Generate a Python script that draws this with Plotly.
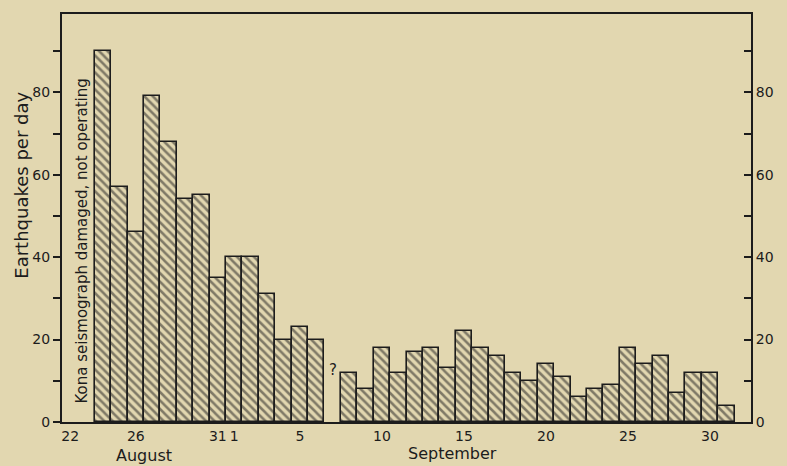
import plotly.graph_objects as go
import pandas as pd

# Daily earthquake counts, 24 Aug - 1 Oct 1951 (7 Sep missing)
dates = pd.date_range("1951-08-24", "1951-10-01", freq="D")
counts = [90, 57, 46, 79, 68, 54, 55, 35,
          40, 40, 31, 20, 23, 20, None, 12, 8, 18, 12, 17, 18, 13, 22, 18,
          16, 12, 10, 14, 11, 6, 8, 9, 18, 14, 16, 7, 12, 12,
          4]
tick_dates = ["1951-08-22", "1951-08-26", "1951-08-31", "1951-09-01", "1951-09-05",
              "1951-09-10", "1951-09-15", "1951-09-20", "1951-09-25", "1951-09-30"]
tick_text = ["22", "26", "31", "1", "5", "10", "15", "20", "25", "30"]
y_ticks = [0, 20, 40, 60, 80]

BG = "#e2d7b0"
INK = "#1c1c1c"
FONT = "DejaVu Sans"

fig = go.Figure()
fig.add_trace(go.Bar(
    x=dates, y=counts, width=86400000,
    marker=dict(color=BG, line=dict(color=INK, width=1.6),
                pattern=dict(shape="\\", fgcolor=INK, bgcolor=BG, size=6, solidity=0.42)),
    showlegend=False, hoverinfo="skip"))
fig.add_trace(go.Scatter(x=[dates[0]], y=[0], yaxis="y2", mode="markers",
                         marker=dict(opacity=0), showlegend=False, hoverinfo="skip"))

fig.update_layout(
    width=787, height=466,
    margin=dict(l=62, r=36, t=14, b=44),
    paper_bgcolor=BG, plot_bgcolor=BG,
    font=dict(family=FONT, color=INK, size=14),
    bargap=0,
    xaxis=dict(type="date", range=["1951-08-21 12:00", "1951-10-02 12:00"],
               tickvals=tick_dates, ticktext=tick_text, ticks="",
               showgrid=False, zeroline=False, showline=True, mirror=True,
               linecolor=INK, linewidth=2, tickfont=dict(size=14)),
    yaxis=dict(range=[0, 99], tickvals=y_ticks, ticks="outside", ticklen=7,
               tickwidth=1.5, tickcolor=INK, showgrid=False, zeroline=False,
               showline=True, linecolor=INK, linewidth=2,
               minor=dict(tickvals=[10, 30, 50, 70, 90], ticks="outside", ticklen=7,
                          tickwidth=1.5, tickcolor=INK),
               tickfont=dict(size=14)),
    yaxis2=dict(range=[0, 99], overlaying="y", side="right", tickvals=y_ticks,
                ticks="inside", ticklen=7, tickwidth=1.5, tickcolor=INK,
                showgrid=False, zeroline=False, showline=True, linecolor=INK, linewidth=2,
                minor=dict(tickvals=[10, 30, 50, 70, 90], ticks="inside", ticklen=7,
                           tickwidth=1.5, tickcolor=INK),
                tickfont=dict(size=14)),
)

fig.add_annotation(text="Earthquakes per day", x=-0.06, xref="paper", xanchor="center",
                   y=57.5, yref="y", yanchor="middle",
                   textangle=-90, showarrow=False, font=dict(size=18))
fig.add_annotation(text="Kona seismograph damaged, not operating", x="1951-08-22 17:00",
                   y=44, xref="x", yref="y", textangle=-90, showarrow=False,
                   xanchor="center", yanchor="middle", font=dict(size=15))
fig.add_annotation(text="?", x="1951-09-07", y=12.5, showarrow=False, font=dict(size=15))
fig.add_annotation(text="August", x="1951-08-26 12:00", xref="x", y=-0.083, yref="paper",
                   showarrow=False, yanchor="middle", font=dict(size=16))
fig.add_annotation(text="September", x="1951-09-14 08:00", xref="x", y=-0.078, yref="paper",
                   showarrow=False, yanchor="middle", font=dict(size=16))

fig.write_html("out.html", config={"displayModeBar": False},
               post_script="document.body.style.margin='0';")
